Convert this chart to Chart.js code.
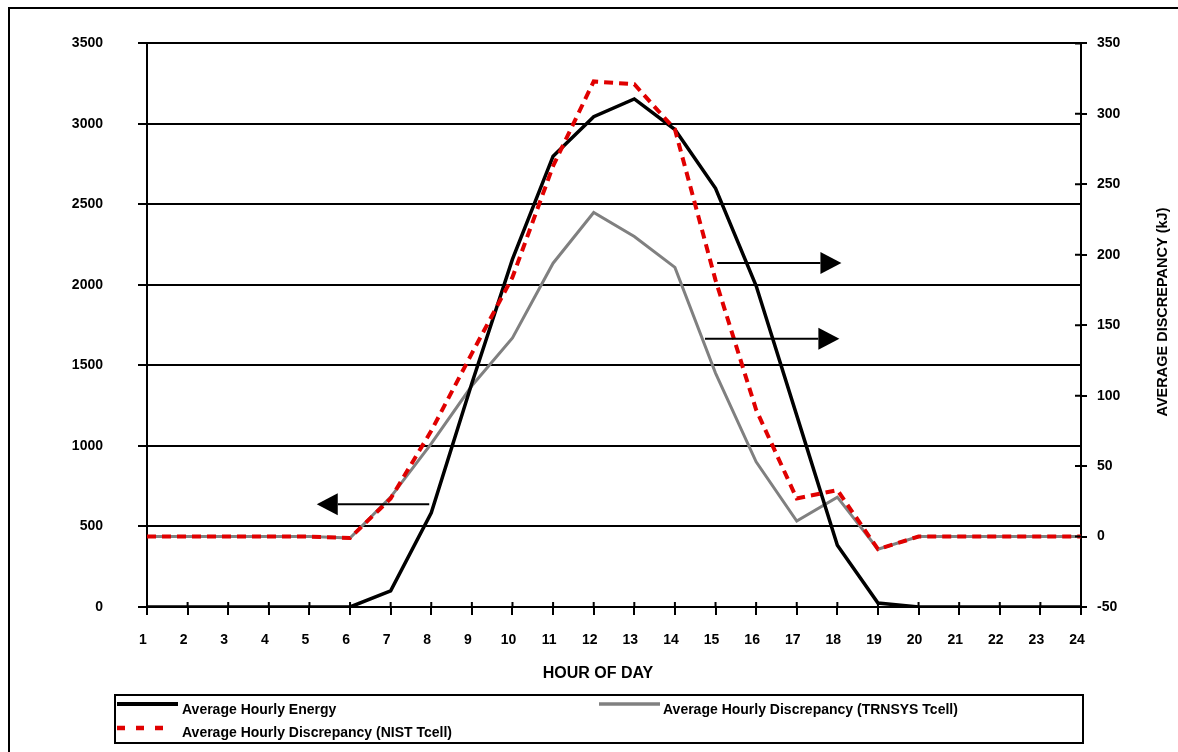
<!DOCTYPE html>
<html><head><meta charset="utf-8">
<script src="https://cdn.jsdelivr.net/npm/chart.js@4"></script>
<style>html,body{margin:0;padding:0;background:#fff}#wrap{position:relative;width:1178px;height:752px}</style>
</head><body><div id="wrap"><canvas id="c" width="1178" height="752"></canvas></div>
<script>
// ---- data ----
const hours = ['1','2','3','4','5','6','7','8','9','10','11','12','13','14','15','16','17','18','19','20','21','22','23','24'];
const energy = [0,0,0,0,0,0,100,585,1390,2160,2800,3045,3155,2965,2600,1995,1190,384,25,0,0,0,0,0];
const trnsys = [0,0,0,0,0,-1,28,66,107,141,194,230,213,191,116,53,11,28,-9,0,0,0,0,0];
const nist   = [0,0,0,0,0,-1,27,75,130,184,263,323,321,289,182,90,27,33,-9,0,0,0,0,0];
const leftTicks  = [0,500,1000,1500,2000,2500,3000,3500];
const rightTicks = [-50,0,50,100,150,200,250,300,350];
const seriesNames = ['Average Hourly Energy','Average Hourly Discrepancy (TRNSYS Tcell)','Average Hourly Discrepancy (NIST Tcell)'];
const xTitle = 'HOUR OF DAY';
const yRightTitle = 'AVERAGE DISCREPANCY (kJ)';
// arrows: [hourFrom, hourTo, leftAxisValue]
const arrows = [[7.95,5.18,638],[15.04,18.1,2137],[14.74,18.05,1666]];

const FONT = 'Liberation Sans, Arial, sans-serif';

const decor = {
  id:'decor',
  afterDraw(chart){
    const ctx = chart.ctx, xs = chart.scales.x, yl = chart.scales.y, yr = chart.scales.y1;
    ctx.save();
    ctx.strokeStyle='#000'; ctx.lineWidth=2;
    ctx.strokeRect(9,8,1300,900);
    ctx.beginPath();
    xs.ticks.forEach((t,i)=>{const px=xs.getPixelForTick(i); ctx.moveTo(px,yl.bottom); ctx.lineTo(px,yl.bottom-5);});
    yr.ticks.forEach((t,i)=>{const py=yr.getPixelForTick(i); ctx.moveTo(yr.left,py); ctx.lineTo(yr.left-6,py);});
    ctx.stroke();
    ctx.fillStyle='#000'; ctx.lineWidth=2;
    arrows.forEach(a=>{
      const x0=xs.getPixelForValue(a[0]-1), x1=xs.getPixelForValue(a[1]-1), y=yl.getPixelForValue(a[2]);
      const dir = Math.sign(x1-x0), hl=21, hw=11;
      ctx.beginPath(); ctx.moveTo(x0,y); ctx.lineTo(x1-dir*hl,y); ctx.stroke();
      ctx.beginPath(); ctx.moveTo(x1,y); ctx.lineTo(x1-dir*hl,y-hw); ctx.lineTo(x1-dir*hl,y+hw); ctx.closePath(); ctx.fill();
    });
    ctx.fillStyle='#000';
    ctx.font='bold 16px '+FONT; ctx.textAlign='center'; ctx.textBaseline='middle';
    ctx.fillText(xTitle,598,674);
    ctx.save(); ctx.translate(1163,312); ctx.rotate(-Math.PI/2);
    ctx.font='bold 14.5px '+FONT; ctx.fillText(yRightTitle,0,0); ctx.restore();
    ctx.lineWidth=2; ctx.strokeStyle='#000';
    ctx.strokeRect(115,695,968,48);
    const ds = chart.data.datasets;
    const items = [[ds[0],117,178,704,182,710],[ds[1],599,660,704,663,710],[ds[2],117,170,728,182,733]];
    ctx.font='bold 14px '+FONT; ctx.textAlign='left';
    items.forEach(([d,a,b,ly,tx,ty])=>{
      ctx.save(); ctx.strokeStyle=d.borderColor; ctx.lineWidth=d.borderWidth+0.5;
      ctx.setLineDash(d.label===seriesNames[2]?[8,11]:[]); ctx.beginPath(); ctx.moveTo(a,ly); ctx.lineTo(b,ly); ctx.stroke(); ctx.restore();
      ctx.fillText(d.label,tx,ty);
    });
    ctx.restore();
  }
};

new Chart(document.getElementById('c'),{
  type:'line',
  data:{labels:hours,datasets:[
    {label:seriesNames[0],data:energy,yAxisID:'y',borderColor:'#000',borderWidth:3.5,pointRadius:0,tension:0,order:1},
    {label:seriesNames[1],data:trnsys,yAxisID:'y1',borderColor:'#808080',borderWidth:3,pointRadius:0,tension:0,order:2},
    {label:seriesNames[2],data:nist,yAxisID:'y1',borderColor:'#e00000',borderWidth:4,borderDash:[9,6],pointRadius:0,tension:0,order:0}
  ]},
  options:{
    responsive:false,animation:false,
    layout:{padding:{top:42,left:0,right:0,bottom:0},autoPadding:false},
    plugins:{legend:{display:false},tooltip:{enabled:false}},
    scales:{
      x:{type:'category',offset:false,
        grid:{display:true,drawOnChartArea:false,color:'#000',lineWidth:2,tickLength:8},
        border:{display:true,color:'#000',width:2},
        ticks:{color:'#000',font:{family:FONT,size:14,weight:'bold'},padding:17,labelOffset:-4,maxRotation:0,autoSkip:false},
        afterFit(s){s.height=145;}},
      y:{position:'left',min:0,max:3500,
        afterBuildTicks(s){s.ticks=leftTicks.map(v=>({value:v}));},
        grid:{color:'#000',lineWidth:2,tickLength:9},
        border:{display:true,color:'#000',width:2},
        ticks:{color:'#000',font:{family:FONT,size:14,weight:'bold'},padding:35,callback:v=>String(v)},
        afterFit(s){s.width=147;}},
      y1:{position:'right',min:-50,max:350,
        afterBuildTicks(s){s.ticks=rightTicks.map(v=>({value:v}));},
        grid:{drawOnChartArea:false,color:'#000',lineWidth:2,tickLength:6},
        border:{display:true,color:'#000',width:2},
        ticks:{color:'#000',font:{family:FONT,size:14,weight:'bold'},padding:10,callback:v=>String(v)},
        afterFit(s){s.width=97;}}
    }
  },
  plugins:[decor]
});
</script></body></html>
